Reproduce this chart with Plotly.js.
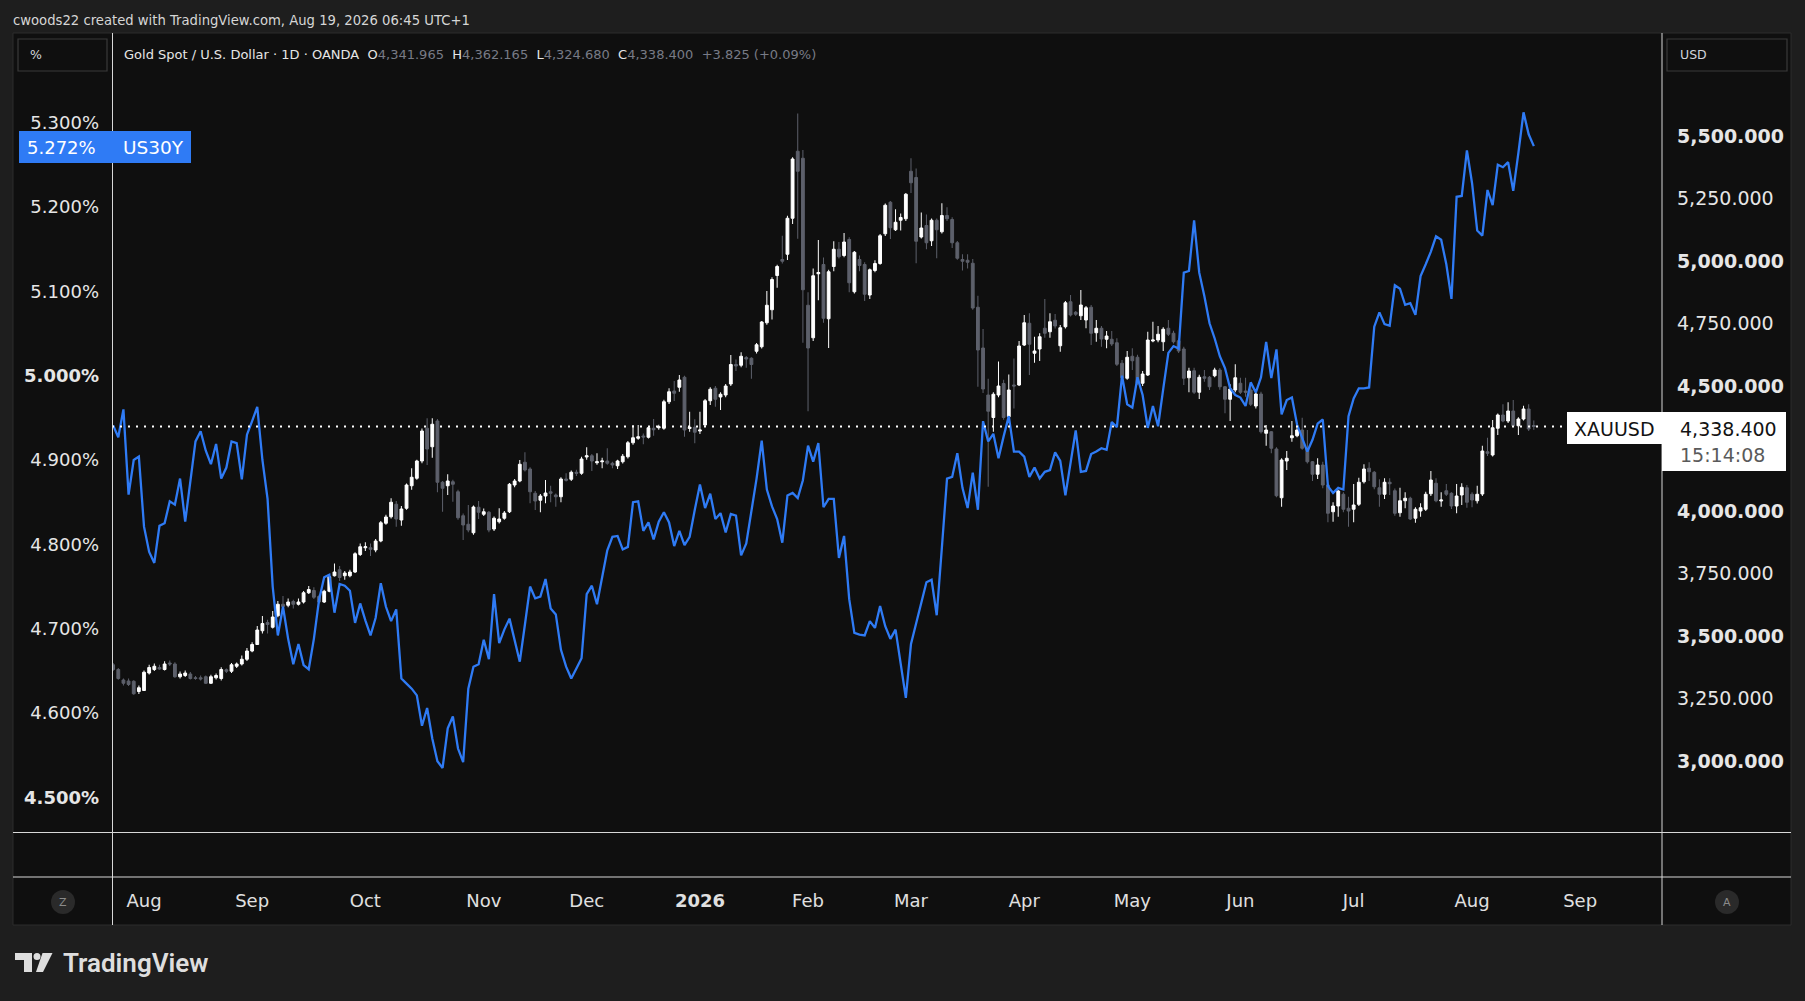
<!DOCTYPE html>
<html><head><meta charset="utf-8">
<script src="https://cdn.plot.ly/plotly-3.0.1.min.js"></script>
<style>html,body{margin:0;padding:0;background:#1e1e1e;overflow:hidden}#chart{width:1805px;height:1001px}</style>
</head><body><div id="chart"></div>
<script>
// ---------- DATA ----------
const firstDay = '2025-07-24';
const holidays = ['2025-12-25','2026-01-01','2026-04-03'];

const goldOpen = [3385,3366,3324,3320,3319,3278,
3282,3352,3366,3374,3366,3392,3388,3337,3342,3348,
3333,3333,3337,3311,3333,3330,3365,3359,3379,3388,
3407,3440,3466,3521,3554,3535,3581,3627,3623,3638,
3627,3636,3673,3682,3658,3636,3679,3741,3765,3741,
3741,3756,3826,3853,3853,3844,3880,3951,3977,4027,
3964,4011,4101,4131,4200,4331,4257,4360,4115,4101,
4117,4077,3981,3947,3913,4015,3987,3995,3928,3957,
3971,3997,4104,4120,4195,4168,4071,4043,4060,4077,
4064,4057,4128,4127,4155,4151,4216,4221,4193,4197,
4200,4191,4181,4197,4217,4273,4291,4300,4295,4331,
4333,4331,4437,4480,4495,4535,4330,4335,4320,4344,
4441,4491,4456,4464,4508,4586,4583,4614,4611,4639,
4657,4753,4805,4942,5006,5027,5171,5439,5411,4823,
4693,4949,4986,4769,4978,5047,5022,5086,4877,5006,
4986,4864,4962,4990,5109,5235,5125,5163,5169,5359,
5334,5096,5142,5081,5163,5117,5182,5166,5073,5006,
5003,4991,4815,4652,4464,4374,4464,4510,4377,4504,
4504,4664,4751,4631,4648,4731,4717,4763,4661,4737,
4837,4795,4781,4764,4815,4713,4731,4687,4687,4673,
4591,4531,4619,4615,4511,4544,4680,4684,4677,4731,
4711,4681,4648,4533,4561,4475,4537,4535,4541,4564,
4497,4447,4484,4511,4480,4484,4420,4468,4311,4317,
4248,4053,4200,4293,4301,4324,4251,4197,4147,4184,
4104,3997,4020,4067,4011,4007,4027,4117,4171,4155,
4093,4067,4115,4081,3993,4041,4051,3971,4000,4007,
4069,4111,4040,4081,4071,4020,4064,4093,4067,4041,
4068,4237,4224,4331,4384,4360,4400,4341,4368,4408,
4341.965];

const goldHigh = [3392,3372,3330,3330,3323,3302,
3362,3385,3390,3385,3399,3402,3395,3358,3362,3356,
3340,3342,3342,3345,3350,3375,3370,3392,3394,3422,
3452,3475,3540,3580,3565,3600,3640,3660,3650,3645,
3650,3680,3700,3695,3665,3685,3745,3790,3780,3760,
3765,3835,3870,3875,3870,3888,3960,3985,4051,4040,
4020,4110,4171,4205,4330,4371,4371,4368,4120,4147,
4125,4085,3990,4024,4022,4040,4010,4000,3978,4011,
4000,4112,4128,4204,4235,4175,4080,4068,4124,4101,
4070,4135,4151,4162,4165,4217,4255,4228,4231,4213,
4251,4197,4205,4228,4280,4344,4344,4310,4337,4368,
4345,4445,4491,4520,4544,4541,4397,4367,4397,4448,
4495,4500,4475,4508,4624,4606,4635,4620,4615,4672,
4760,4880,4935,4985,5101,5181,5415,5590,5444,4875,
4970,5084,5014,4965,5079,5076,5112,5095,5040,5022,
4995,4970,5003,5108,5230,5240,5207,5190,5272,5411,
5370,5194,5186,5170,5170,5231,5215,5175,5080,5027,
5027,5008,4861,4728,4529,4475,4598,4525,4546,4610,
4680,4784,4791,4697,4711,4848,4791,4788,4744,4840,
4864,4800,4884,4820,4824,4764,4740,4720,4720,4691,
4604,4640,4651,4625,4560,4717,4757,4740,4735,4764,
4721,4690,4657,4573,4573,4545,4564,4540,4573,4572,
4500,4507,4587,4533,4533,4511,4475,4477,4344,4320,
4255,4211,4240,4360,4344,4373,4324,4200,4211,4197,
4110,4035,4085,4075,4057,4108,4133,4187,4195,4160,
4127,4131,4131,4090,4093,4075,4057,4015,4031,4077,
4160,4131,4075,4108,4075,4108,4111,4104,4075,4101,
4261,4293,4364,4390,4427,4435,4444,4375,4421,4427,
4362.165];

const goldLow = [3360,3325,3302,3300,3265,3268,
3280,3346,3360,3365,3362,3380,3333,3330,3336,3326,
3325,3322,3308,3308,3326,3322,3352,3352,3372,3382,
3400,3435,3465,3510,3510,3530,3575,3612,3615,3610,
3622,3630,3668,3648,3630,3632,3675,3738,3720,3725,
3735,3752,3820,3840,3820,3835,3875,3945,3970,3937,
3941,4005,4085,4125,4191,4184,4213,4075,3997,4064,
4037,3965,3884,3915,3905,3968,3980,3915,3920,3950,
3965,3992,4095,4115,4158,4031,4004,3995,4031,4035,
4017,4035,4118,4120,4140,4145,4205,4160,4185,4171,
4185,4171,4168,4190,4210,4265,4285,4267,4290,4301,
4325,4325,4428,4440,4477,4297,4317,4271,4308,4340,
4424,4417,4404,4455,4500,4560,4575,4573,4529,4630,
4650,4745,4766,4893,4990,5004,5148,5089,4673,4399,
4680,4843,4753,4652,4959,5010,5015,4875,4870,4959,
4840,4848,4955,4985,5100,5088,5120,5122,5160,5272,
4991,5090,5047,5060,5011,5110,5160,5052,5005,4962,
4970,4805,4497,4472,4097,4317,4455,4365,4365,4410,
4500,4660,4544,4593,4600,4693,4693,4730,4637,4730,
4778,4780,4764,4731,4664,4677,4657,4651,4660,4580,
4525,4525,4564,4505,4500,4540,4675,4675,4640,4700,
4670,4632,4504,4475,4468,4448,4517,4484,4535,4485,
4391,4360,4475,4468,4457,4420,4410,4310,4261,4231,
4055,4017,4164,4277,4295,4245,4190,4120,4128,4091,
3955,3957,3977,3995,3937,3955,4020,4110,4120,4087,
4017,4048,4064,3981,3977,4011,3964,3953,3977,4000,
4060,4035,4017,4060,4008,3991,4024,4013,4015,4030,
4060,4220,4218,4304,4355,4352,4335,4304,4362,4320,
4324.68];

const goldClose = [3366,3330,3311,3306,3269,3293,
3355,3374,3379,3368,3388,3388,3337,3348,3352,3330,
3330,3328,3311,3337,3342,3366,3359,3385,3388,3407,
3440,3466,3524,3550,3546,3576,3627,3618,3636,3627,
3636,3673,3686,3655,3636,3679,3737,3756,3734,3752,
3756,3829,3857,3857,3847,3880,3953,3976,4035,3968,
4008,4104,4135,4200,4320,4248,4347,4115,4091,4120,
4107,3973,3944,3924,4016,3995,3997,3924,3971,3968,
3992,4107,4120,4187,4164,4077,4040,4060,4072,4071,
4057,4128,4123,4155,4151,4208,4221,4200,4197,4200,
4191,4184,4200,4219,4273,4293,4297,4296,4333,4325,
4337,4437,4477,4471,4524,4324,4335,4315,4324,4441,
4487,4447,4467,4500,4586,4580,4619,4608,4586,4665,
4756,4823,4926,4978,4999,5171,5408,5359,4885,4652,
4941,4954,4771,4957,5047,5017,5076,4913,5035,4982,
4867,4965,4990,5101,5223,5133,5155,5174,5267,5313,
5079,5132,5073,5163,5125,5182,5169,5073,5011,4999,
4995,4812,4644,4488,4399,4467,4500,4374,4484,4500,
4660,4753,4667,4640,4697,4711,4757,4740,4733,4833,
4784,4787,4824,4813,4711,4731,4688,4700,4668,4587,
4533,4615,4601,4513,4548,4684,4684,4707,4727,4707,
4677,4640,4531,4560,4475,4535,4531,4497,4564,4497,
4447,4488,4533,4475,4475,4427,4468,4317,4324,4251,
4061,4204,4211,4301,4324,4251,4197,4147,4184,4104,
3991,4020,4080,4007,4000,4024,4115,4168,4157,4097,
4067,4115,4109,3991,4041,4051,3968,4007,4013,4067,
4124,4041,4044,4067,4020,4060,4095,4035,4044,4067,
4240,4231,4333,4384,4360,4400,4341,4368,4408,4328,
4338.4];

const us30y = [4.941,4.927,4.960,4.859,4.900,4.904,
4.821,4.791,4.778,4.822,4.825,4.851,4.847,4.878,4.827,4.876,
4.922,4.934,4.911,4.895,4.919,4.878,4.891,4.922,4.920,4.877,
4.930,4.946,4.963,4.900,4.854,4.750,4.692,4.726,4.688,4.658,
4.682,4.657,4.652,4.688,4.734,4.761,4.764,4.719,4.753,4.751,
4.745,4.707,4.730,4.710,4.692,4.713,4.754,4.726,4.709,4.723,
4.641,4.635,4.629,4.621,4.585,4.606,4.570,4.543,4.535,4.582,
4.596,4.558,4.542,4.629,4.655,4.658,4.687,4.664,4.741,4.683,
4.699,4.712,4.687,4.661,4.705,4.750,4.736,4.738,4.759,4.724,
4.717,4.675,4.655,4.641,4.653,4.665,4.741,4.751,4.729,4.761,
4.793,4.809,4.810,4.794,4.797,4.850,4.851,4.816,4.826,4.806,
4.827,4.838,4.826,4.798,4.816,4.799,4.809,4.841,4.871,4.843,
4.860,4.830,4.837,4.814,4.836,4.834,4.787,4.801,4.839,4.878,
4.923,4.865,4.845,4.830,4.802,4.858,4.861,4.855,4.876,4.917,
4.898,4.920,4.844,4.854,4.854,4.784,4.810,4.735,4.695,4.693,
4.692,4.709,4.701,4.727,4.703,4.688,4.699,4.660,4.618,4.682,
4.706,4.730,4.755,4.758,4.716,4.796,4.878,4.880,4.908,4.867,
4.843,4.885,4.841,4.946,4.922,4.931,4.902,4.928,4.952,4.910,
4.910,4.904,4.880,4.891,4.878,4.886,4.888,4.909,4.899,4.858,
4.898,4.935,4.886,4.887,4.907,4.910,4.914,4.912,4.945,4.939,
5.000,4.966,4.962,4.998,4.977,4.938,4.964,4.940,4.984,5.027,
5.035,5.032,5.122,5.124,5.184,5.122,5.094,5.062,5.044,5.023,
5.009,4.985,4.977,4.974,4.964,4.992,4.980,4.998,5.040,4.997,
5.031,4.954,4.971,4.974,4.942,4.925,4.910,4.924,4.943,4.948,
4.869,4.861,4.867,4.865,4.952,4.973,4.985,4.985,4.986,5.058,
5.075,5.061,5.059,5.107,5.103,5.084,5.086,5.072,5.118,5.132,
5.147,5.165,5.161,5.132,5.091,5.212,5.213,5.267,5.228,5.172,
5.166,5.220,5.202,5.250,5.247,5.253,5.219,5.264,5.312,5.286,
5.272];

const monthTicks = ['2025-08-01','2025-09-01','2025-10-01','2025-11-03','2025-12-01','2026-01-02','2026-02-02','2026-03-02','2026-04-01','2026-05-01','2026-06-01','2026-07-01','2026-08-03','2026-09-01'];
const monthLabels = ['Aug','Sep','Oct','Nov','Dec','<b>2026</b>','Feb','Mar','Apr','May','Jun','Jul','Aug','Sep'];
const pctTicks = [4.5,4.6,4.7,4.8,4.9,5.0,5.1,5.2,5.3];
const pctLabels = ['<b>4.500%</b>','4.600%','4.700%','4.800%','4.900%','<b>5.000%</b>','5.100%','5.200%','5.300%'];
const usdTicks = [3000,3250,3500,3750,4000,4500,4750,5000,5250,5500];
const usdLabels = ['<b>3,000.000</b>','3,250.000','<b>3,500.000</b>','3,750.000','<b>4,000.000</b>','<b>4,500.000</b>','4,750.000','<b>5,000.000</b>','5,250.000','<b>5,500.000</b>'];
const lastPrice = 4338.4;
const lastYield = 5.272;

// ---------- HELPERS ----------
function tradingDays(start, n, skip){
  const out=[]; const d=new Date(start+'T00:00:00Z');
  while(out.length<n){
    const wd=d.getUTCDay(); const s=d.toISOString().slice(0,10);
    if(wd!==0 && wd!==6 && skip.indexOf(s)<0) out.push(s);
    d.setUTCDate(d.getUTCDate()+1);
  }
  return out;
}
const dates = tradingDays(firstDay, goldClose.length, holidays);

const W=1805,H=1001,ML=112,MR=143,MT=35,MB=169;
const PW=W-ML-MR, PH=H-MT-MB;
const px=x=>(x-ML)/PW;
const py=y=>(H-MB-y)/PH;
const FONT='DejaVu Sans';
const TXT='#d1d4dc';

function rect(x0,y0,x1,y1,fill,line,lw){
  return {type:'rect',xref:'paper',yref:'paper',x0:px(x0),x1:px(x1),y0:py(y1),y1:py(y0),
    fillcolor:fill,line:{color:line||fill,width:lw===undefined?0:lw},layer:'below'};
}
function hline(y,x0,x1,c){return {type:'line',xref:'paper',yref:'paper',x0:px(x0),x1:px(x1),y0:py(y),y1:py(y),line:{color:c,width:1},layer:'above'};}
function vline(x,y0,y1,c){return {type:'line',xref:'paper',yref:'paper',x0:px(x),x1:px(x),y0:py(y0),y1:py(y1),line:{color:c,width:1},layer:'above'};}
function txt(x,y,t,size,color,anchor,extra){
  return Object.assign({xref:'paper',yref:'paper',x:px(x),y:py(y),text:t,showarrow:false,
    xanchor:anchor||'left',yanchor:'middle',font:{family:FONT,size:size,color:color}},extra||{});
}

// ---------- TRACES ----------
const candles = {
  type:'candlestick', x:dates, open:goldOpen, high:goldHigh, low:goldLow, close:goldClose,
  xaxis:'x', yaxis:'y', whiskerwidth:0, hoverinfo:'skip', showlegend:false,
  increasing:{line:{color:'#ffffff',width:1},fillcolor:'#ffffff'},
  decreasing:{line:{color:'#5d606b',width:1},fillcolor:'#5d606b'}
};
const yieldLine = {
  type:'scatter', mode:'lines', x:dates, y:us30y, xaxis:'x', yaxis:'y2',
  line:{color:'#2f7bf5',width:2.3}, hoverinfo:'skip', showlegend:false
};

// ---------- LAYOUT ----------
const BLUE='#2f7bf5';
const LOGO='#dedede';
const shapes = [
  rect(13,33,1791,925,'#0f0f0f','#2c2c2c',1),
  rect(18,39,107,71,'rgba(0,0,0,0)','#3a3a3a',1.2),
  rect(1667,39,1787,71,'rgba(0,0,0,0)','#3a3a3a',1.2),
  {type:'line',xref:'paper',yref:'y',x0:0,x1:px(1567),y0:lastPrice,y1:lastPrice,
   line:{color:'#ffffff',width:2,dash:'2px,6px'},layer:'above'},
  vline(112.5,33,925,'#d8d8d8'),
  vline(1662,33,925,'#d8d8d8'),
  hline(832.5,13,1791,'#d8d8d8'),
  hline(877,13,1791,'#d8d8d8'),
  Object.assign(rect(19,131,191,163,BLUE,BLUE,0),{layer:'above'}),
  Object.assign(rect(1567,412,1662,444,'#ffffff','#ffffff',0),{layer:'above'}),
  Object.assign(rect(1662,412,1786,471,'#ffffff','#ffffff',0),{layer:'above'}),
  {type:'circle',xref:'paper',yref:'paper',x0:px(51),x1:px(75),y0:py(914),y1:py(890),fillcolor:'#2a2a2a',line:{width:0},layer:'above'},
  {type:'circle',xref:'paper',yref:'paper',x0:px(1715),x1:px(1739),y0:py(914),y1:py(890),fillcolor:'#2a2a2a',line:{width:0},layer:'above'},
  Object.assign(rect(15,953,32,960,LOGO,LOGO,0),{layer:'above'}),
  Object.assign(rect(24,953,32,972,LOGO,LOGO,0),{layer:'above'}),
  {type:'circle',xref:'paper',yref:'paper',x0:px(33.5),x1:px(40.5),y0:py(960),y1:py(953),fillcolor:LOGO,line:{width:0},layer:'above'},
  {type:'path',xref:'paper',yref:'paper',layer:'above',fillcolor:LOGO,line:{width:0},
   path:`M ${px(42.5)} ${py(953)} L ${px(52.5)} ${py(953)} L ${px(43)} ${py(972)} L ${px(36)} ${py(972)} Z`}
];

const G='#787b86';
const sp='\u00a0';
const legendText = 'Gold Spot / U.S. Dollar · 1D · OANDA'+sp+sp+
  'O<span style="color:'+G+'">4,341.965</span>'+sp+sp+
  'H<span style="color:'+G+'">4,362.165</span>'+sp+sp+
  'L<span style="color:'+G+'">4,324.680</span>'+sp+sp+
  'C<span style="color:'+G+'">4,338.400</span>'+sp+sp+
  '<span style="color:'+G+'">+3.825 (+0.09%)</span>';

const annotations = [
  txt(11,20,'cwoods22 created with TradingView.com, Aug 19, 2026 06:45 UTC+1',13.2,'#d6d6d6'),
  txt(122,54,legendText,13,'#e6e6e6'),
  txt(28,55,'%',12.5,TXT),
  txt(1678,55,'USD',12.5,TXT),
  txt(98,147,lastYield.toFixed(3)+'%',18,'#ffffff','right'),
  txt(121,147,'US30Y',18.5,'#ffffff'),
  txt(1614.5,429,'XAUUSD',19,'#131313','center'),
  txt(1678,429,'4,338.400',19,'#131313'),
  txt(1678,455,'15:14:08',19,'#5a5a5a'),
  txt(63,902,'Z',11,'#8a8a8a','center'),
  txt(1727,902,'A',11,'#8a8a8a','center'),
  {xref:'paper',yref:'paper',x:px(61),y:py(963),text:'TradingView',showarrow:false,xanchor:'left',yanchor:'middle',
   font:{family:'Roboto, DejaVu Sans',size:26,color:LOGO,weight:600}}
];

const layout = {
  width:W, height:H,
  margin:{l:ML,r:MR,t:MT,b:MB,autoexpand:false},
  paper_bgcolor:'#1e1e1e', plot_bgcolor:'#0f0f0f',
  showlegend:false, dragmode:false, boxgap:0.22,
  font:{family:FONT,color:TXT},
  xaxis:{
    type:'date', range:['2025-07-23 18:43','2026-09-22 21:36'],
    rangebreaks:[{bounds:['sat','mon']},{values:holidays}],
    rangeslider:{visible:false},
    tickmode:'array', tickvals:monthTicks, ticktext:monthLabels,
    tickfont:{family:FONT,size:18,color:'#e0e0e0'},
    ticks:'', ticklabelstandoff:56,
    showgrid:false, zeroline:false, showline:false, fixedrange:true
  },
  yaxis:{
    side:'right', range:[2716,5904], tickmode:'array', tickvals:usdTicks, ticktext:usdLabels,
    tickfont:{family:FONT,size:19,color:'#e6e6e6'}, ticks:'', ticklabelstandoff:14,
    showgrid:false, zeroline:false, showline:false, fixedrange:true
  },
  yaxis2:{
    overlaying:'y', side:'left', range:[4.4591,5.4037], tickmode:'array', tickvals:pctTicks, ticktext:pctLabels,
    tickfont:{family:FONT,size:18,color:'#e6e6e6'}, ticks:'', ticklabelstandoff:12,
    showgrid:false, zeroline:false, showline:false, fixedrange:true
  },
  shapes:shapes, annotations:annotations
};

Plotly.newPlot('chart',[candles,yieldLine],layout,{staticPlot:true,displayModeBar:false});
</script>
</body></html>
